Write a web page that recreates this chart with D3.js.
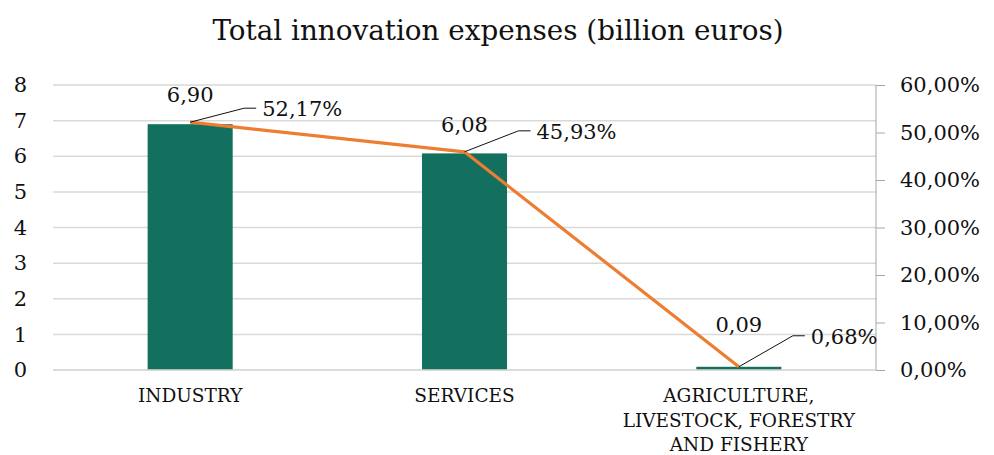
<!DOCTYPE html>
<html>
<head>
<meta charset="utf-8">
<script src="https://cdn.jsdelivr.net/npm/d3@7"></script>
<style>
  html, body { margin: 0; padding: 0; background: #fff; }
  svg { display: block; }
  svg text { font-family: "DejaVu Serif", serif; }
</style>
</head>
<body>
<svg id="chart" width="994" height="455"></svg>
<script>
// Innovation expenses by sector
const categories = ["INDUSTRY", "SERVICES", "AGRICULTURE, LIVESTOCK, FORESTRY AND FISHERY"];
const categoryLines = [["INDUSTRY"], ["SERVICES"], ["AGRICULTURE,", "LIVESTOCK, FORESTRY", "AND FISHERY"]];
const expenses = [6.90, 6.08, 0.09];          // billion euros
const shares = [0.5217, 0.4593, 0.0068];       // share of total
const leftTicks = [0, 1, 2, 3, 4, 5, 6, 7, 8];
const rightTicks = [0, 0.1, 0.2, 0.3, 0.4, 0.5, 0.6];

const svg = d3.select("#chart");
const margin = { left: 53, right: 118, top: 85, bottom: 85 };
const W = 994, H = 455;
const x0 = margin.left, x1 = W - margin.right;
const y0 = H - margin.bottom, y1 = margin.top;

const x = d3.scaleBand().domain(categories).range([x0, x1]).paddingInner(0.69).paddingOuter(0.345);
const yL = d3.scaleLinear().domain([0, 8]).range([y0, y1]);
const yR = d3.scaleLinear().domain([0, 0.6]).range([y0, y1]);

const fmt2 = v => d3.format(".2f")(v).replace(".", ",");
const fmtPct = v => d3.format(".2%")(v).replace(".", ",");

// title
svg.append("text")
  .attr("x", 498).attr("y", 40)
  .attr("text-anchor", "middle")
  .attr("font-size", 27.8)
  .attr("fill", "#111")
  .text("Total innovation expenses (billion euros)");

// gridlines
svg.append("g").selectAll("line").data(leftTicks).join("line")
  .attr("x1", x0).attr("x2", x1)
  .attr("y1", d => yL(d)).attr("y2", d => yL(d))
  .attr("stroke", "#d9d9d9").attr("stroke-width", 1.5);

// left axis labels
const gL = svg.append("g").attr("transform", `translate(${x0},0)`)
  .call(d3.axisLeft(yL).tickValues(leftTicks).tickSize(0).tickPadding(26).tickFormat(d3.format("d")));
gL.select(".domain").remove();
gL.attr("font-family", null);
gL.selectAll("text").attr("font-size", 21).attr("fill", "#111");

// right axis
const gR = svg.append("g").attr("transform", `translate(${x1},0)`)
  .call(d3.axisRight(yR).tickValues(rightTicks).tickSize(9).tickPadding(15).tickFormat(fmtPct));
gR.attr("font-family", null);
gR.select(".domain").attr("stroke", "#a6a6a6").attr("d", `M0,${y1}V${y0}`);
gR.selectAll(".tick line").attr("stroke", "#a6a6a6");
gR.selectAll("text").attr("font-size", 21).attr("fill", "#111");

// bars
svg.append("g").selectAll("rect").data(categories).join("rect")
  .attr("x", d => x(d)).attr("width", x.bandwidth())
  .attr("y", (d, i) => yL(expenses[i]))
  .attr("height", (d, i) => yL(0) - yL(expenses[i]))
  .attr("fill", "#13705f");

// bottom baseline
svg.append("line")
  .attr("x1", x0).attr("x2", x1).attr("y1", y0).attr("y2", y0)
  .attr("stroke", "#d9d9d9").attr("stroke-width", 1.5);

// category labels
const cx = d => x(d) + x.bandwidth() / 2;
const catG = svg.append("g");
categories.forEach((c, i) => {
  const t = catG.append("text")
    .attr("x", cx(c)).attr("y", 402)
    .attr("text-anchor", "middle")
    .attr("font-size", 18.5).attr("fill", "#111");
  categoryLines[i].forEach((ln, j) => {
    t.append("tspan").attr("x", cx(c)).attr("dy", j === 0 ? 0 : 24.5).text(ln);
  });
});

// share line
const line = d3.line().x((d, i) => cx(categories[i])).y(d => yR(d));
svg.append("path").datum(shares)
  .attr("d", line)
  .attr("fill", "none")
  .attr("stroke", "#ed7d31")
  .attr("stroke-width", 3.2)
  .attr("stroke-linejoin", "round");

// value labels above the bars
const valueLift = [22, 21, 35];
svg.append("g").selectAll("text").data(expenses).join("text")
  .attr("x", (d, i) => cx(categories[i]))
  .attr("y", (d, i) => yL(d) - valueLift[i])
  .attr("text-anchor", "middle")
  .attr("font-size", 21).attr("fill", "#111")
  .text(d => fmt2(d));

// share labels with leader lines
const leaderRise = [14, 21, 31];
const lg = svg.append("g");
shares.forEach((s, i) => {
  const px = cx(categories[i]), py = yR(s);
  const ly = py - leaderRise[i];
  lg.append("path")
    .attr("d", `M${px},${py}L${px + 54},${ly}H${px + 66}`)
    .attr("fill", "none").attr("stroke", "#111").attr("stroke-width", 1);
  lg.append("text")
    .attr("x", px + 72).attr("y", ly + 8)
    .attr("font-size", 21).attr("fill", "#111")
    .text(fmtPct(s));
});
</script>
</body>
</html>
